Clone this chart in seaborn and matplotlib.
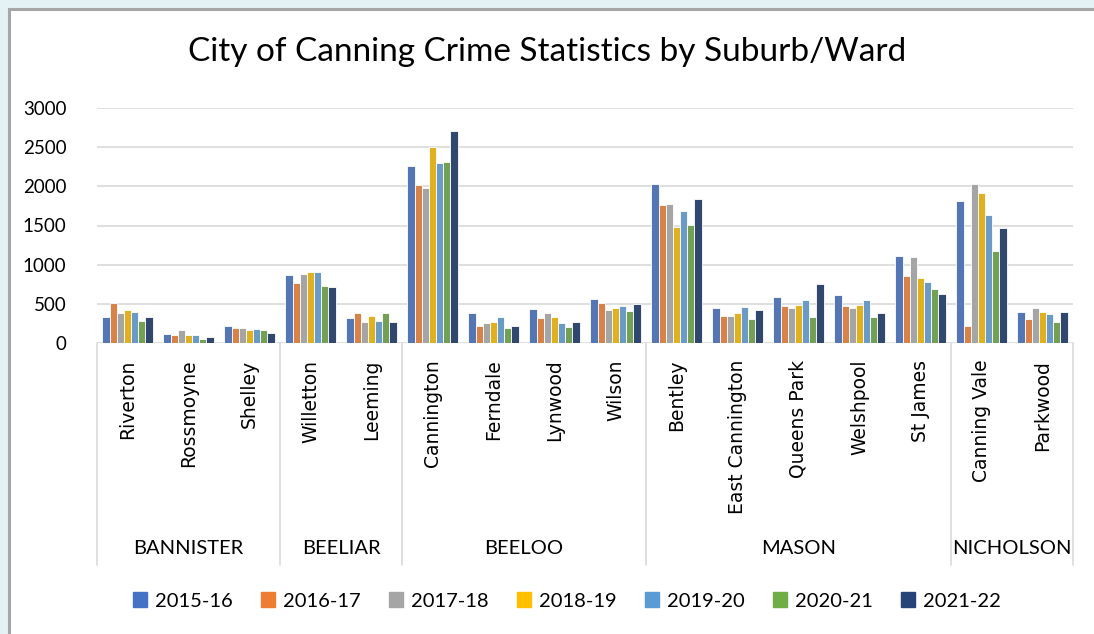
"""City of Canning crime statistics by suburb/ward, grouped bars with a two-level category axis."""

import matplotlib

matplotlib.use("Agg")
import matplotlib.pyplot as plt
import matplotlib.patches as mpatches
import matplotlib.transforms as mtransforms
import pandas as pd
import seaborn as sns

YEARS = ["2015-16", "2016-17", "2017-18", "2018-19", "2019-20", "2020-21", "2021-22"]
WARDS = ["BANNISTER", "BEELIAR", "BEELOO", "MASON", "NICHOLSON"]
WARD_SUBURBS = [
    ["Riverton", "Rossmoyne", "Shelley"],
    ["Willetton", "Leeming"],
    ["Cannington", "Ferndale", "Lynwood", "Wilson"],
    ["Bentley", "East Cannington", "Queens Park", "Welshpool", "St James"],
    ["Canning Vale", "Parkwood"],
]
SUBURBS = [s for grp in WARD_SUBURBS for s in grp]

# one list per suburb, values for 2015-16 .. 2021-22
CRIMES = {
    "Riverton":        [337, 515, 388, 417, 396, 281, 328],
    "Rossmoyne":       [115, 107, 170, 107, 107, 55, 81],
    "Shelley":         [217, 187, 196, 166, 179, 170, 132],
    "Willetton":       [869, 771, 886, 912, 912, 728, 720],
    "Leeming":         [320, 379, 273, 349, 281, 388, 273],
    "Cannington":      [2258, 2019, 1977, 2496, 2292, 2313, 2701],
    "Ferndale":        [388, 222, 256, 273, 332, 192, 222],
    "Lynwood":         [435, 320, 379, 337, 256, 204, 273],
    "Wilson":          [567, 515, 426, 452, 473, 413, 498],
    "Bentley":         [2028, 1764, 1776, 1487, 1687, 1508, 1840],
    "East Cannington": [443, 349, 345, 388, 460, 307, 417],
    "Queens Park":     [588, 477, 452, 486, 550, 328, 754],
    "Welshpool":       [613, 477, 452, 486, 550, 328, 379],
    "St James":        [1112, 861, 1103, 826, 780, 694, 630],
    "Canning Vale":    [1811, 222, 2036, 1917, 1636, 1172, 1474],
    "Parkwood":        [396, 311, 452, 396, 371, 273, 396],
}
PALETTE = ["#4472C4", "#ED7D31", "#A5A5A5", "#FFC000", "#5B9BD5", "#70AD47", "#264478"]

df = pd.DataFrame(
    [(s, y, v) for s in SUBURBS for y, v in zip(YEARS, CRIMES[s])],
    columns=["suburb", "year", "crimes"],
)

sns.set_theme(style="white")
plt.rcParams["font.family"] = ["Lato", "DejaVu Sans"]
plt.rcParams["text.color"] = "black"
plt.rcParams["ytick.color"] = "black"
plt.rcParams["xtick.color"] = "black"

fig = plt.figure(figsize=(10.94, 6.34), dpi=100)
fig.patch.set_facecolor("#E4F1F5")

# chart frame behind everything (screenshot of an Excel chart on a slide)
bg = fig.add_axes([0, 0, 1, 1], zorder=-1)
bg.set_axis_off()
bg.set_xlim(0, 1094)
bg.set_ylim(634, 0)
bg.add_patch(mpatches.Rectangle((9, 9), 1100, 640, facecolor="white", linewidth=0))
bg.plot([9, 9, 1094], [634, 9, 9], color="#A6A6A6", linewidth=2.2,
        solid_joinstyle="miter")

ax = fig.add_axes([97 / 1094, 1 - 343 / 634, 976 / 1094, 235 / 634])
ax.set_facecolor("none")
sns.barplot(
    data=df, x="suburb", y="crimes", hue="year", order=SUBURBS, hue_order=YEARS,
    palette=PALETTE, width=0.82, edgecolor="white", linewidth=0.6, ax=ax,
)
ax.set_ylim(0, 3000)
ax.set_yticks(range(0, 3001, 500))
ax.yaxis.grid(True, color="#D9D9D9", linewidth=1.2)
ax.set_axisbelow(True)
for sp in ax.spines.values():
    sp.set_visible(False)
ax.tick_params(axis="y", length=0, pad=22, labelsize=13.5)
ax.tick_params(axis="x", length=0, pad=12)
ax.set_xticks(range(len(SUBURBS)))
ax.set_xticklabels(SUBURBS, rotation=90, va="top", ha="center",
                   fontsize=13.5, family=["DejaVu Sans"])
ax.set_xlim(-0.5, len(SUBURBS) - 0.5)
ax.set_xlabel("")
ax.set_ylabel("")

fig.text(0.5, 1 - 52 / 634, "City of Canning Crime Statistics by Suburb/Ward",
         ha="center", va="center", fontsize=24)

# second level of the category axis: ward names and separators
trans = mtransforms.blended_transform_factory(ax.transData, ax.transAxes)
sep_bottom = -222 / 235
edges = [-0.5]
for grp in WARD_SUBURBS:
    edges.append(edges[-1] + len(grp))
for e in edges:
    ax.plot([e, e], [0, sep_bottom], transform=trans, color="#D9D9D9",
            linewidth=1.2, clip_on=False)
for ward, lo, hi in zip(WARDS, edges[:-1], edges[1:]):
    ax.text((lo + hi) / 2, -206 / 235, ward, transform=trans, ha="center",
            va="center", fontsize=14.5)

leg = ax.get_legend()
if leg is not None:
    leg.remove()
handles = [mpatches.Patch(color=c, label=y) for c, y in zip(PALETTE, YEARS)]
fig.legend(handles=handles, loc="center", bbox_to_anchor=(567 / 1094, 1 - 601 / 634),
           ncol=7, frameon=False, fontsize=14.5, handlelength=0.7, handleheight=0.7,
           handletextpad=0.4, columnspacing=1.4)

fig.savefig("out.png", dpi=100, facecolor=fig.get_facecolor())
